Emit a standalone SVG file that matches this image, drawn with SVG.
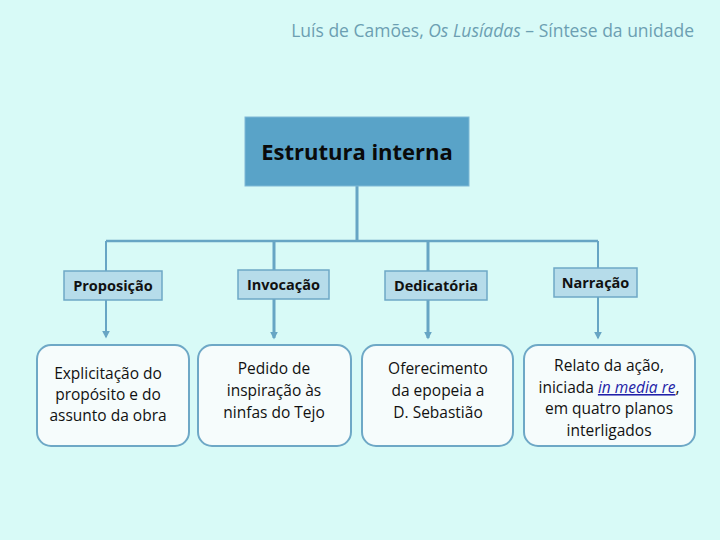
<svg xmlns="http://www.w3.org/2000/svg" width="720" height="540" viewBox="0 0 720 540">
<defs>
<style>
.t{font-family:"Open Sans","Liberation Sans",sans-serif}
.hd{font-size:17.5px;fill:#6c9fb2}
.lbl{font-size:14.5px;font-weight:bold;fill:#111;text-anchor:middle}
.desc{font-size:15.5px;fill:#111;text-anchor:middle}
.small{fill:#b6dcea;stroke:#6ea8c6;stroke-width:1.5}
.big{fill:#f6fcfc;stroke:#6ea8c6;stroke-width:2}
.ln{stroke:#67a5c4;fill:none}
</style>
<marker id="ah" viewBox="0 0 10 10" refX="8" refY="5" markerWidth="8" markerHeight="8" orient="auto" markerUnits="userSpaceOnUse">
<path d="M0,0 L10,5 L0,10 z" fill="#67a5c4"/>
</marker>
</defs>
<rect width="720" height="540" fill="#d8faf7"/>
<text class="t hd" x="694" y="37" text-anchor="end">Luís de Camões, <tspan font-style="italic">Os Lusíadas</tspan> – Síntese da unidade</text>

<g id="connectors">
<path class="ln" stroke-width="3" d="M357,186 V241"/>
<path class="ln" stroke-width="2.5" d="M106,241 H598"/>
<path class="ln" stroke-width="2" d="M106,241 V271"/>
<path class="ln" stroke-width="3" d="M274,241 V270"/>
<path class="ln" stroke-width="3" d="M428,241 V271"/>
<path class="ln" stroke-width="2" d="M598,241 V268"/>
<path class="ln" stroke-width="2" d="M106,300 V337" marker-end="url(#ah)"/>
<path class="ln" stroke-width="3" d="M274,299 V338" marker-end="url(#ah)"/>
<path class="ln" stroke-width="3" d="M428,300 V338" marker-end="url(#ah)"/>
<path class="ln" stroke-width="2" d="M598,297 V338" marker-end="url(#ah)"/>
</g>

<g id="root">
<rect x="245" y="117" width="224" height="69" fill="#59a3c8" stroke="#7fb8d6" stroke-width="1"/>
<text class="t" x="357" y="160" font-size="22" font-weight="bold" fill="#0a0a0a" text-anchor="middle">Estrutura interna</text>
</g>

<g id="proposicao">
<rect class="small" x="64" y="271" width="98" height="29"/>
<text class="t lbl" x="113" y="291">Proposição</text>
</g>
<g id="invocacao">
<rect class="small" x="238" y="270" width="91" height="29"/>
<text class="t lbl" x="283.5" y="290">Invocação</text>
</g>
<g id="dedicatoria">
<rect class="small" x="385" y="271" width="102" height="29"/>
<text class="t lbl" x="436" y="291">Dedicatória</text>
</g>
<g id="narracao">
<rect class="small" x="554" y="268" width="83" height="29"/>
<text class="t lbl" x="595.5" y="288">Narração</text>
</g>

<g id="desc-proposicao">
<rect class="big" x="37" y="345" width="152" height="101" rx="14"/>
<text class="t desc" x="108" y="379">Explicitação do</text>
<text class="t desc" x="108" y="400">propósito e do</text>
<text class="t desc" x="108" y="421">assunto da obra</text>
</g>
<g id="desc-invocacao">
<rect class="big" x="198" y="345" width="153" height="101" rx="14"/>
<text class="t desc" x="274" y="374">Pedido de</text>
<text class="t desc" x="274" y="396">inspiração às</text>
<text class="t desc" x="274" y="418">ninfas do Tejo</text>
</g>
<g id="desc-dedicatoria">
<rect class="big" x="362" y="345" width="151" height="101" rx="14"/>
<text class="t desc" x="438" y="374">Oferecimento</text>
<text class="t desc" x="438" y="396">da epopeia a</text>
<text class="t desc" x="438" y="418">D. Sebastião</text>
</g>
<g id="desc-narracao">
<rect class="big" x="524" y="345" width="171" height="101" rx="14"/>
<text class="t desc" x="609" y="371">Relato da ação,</text>
<text class="t desc" x="609" y="393">iniciada <tspan font-style="italic" fill="#1f1fa8" text-decoration="underline">in media re</tspan>,</text>
<text class="t desc" x="609" y="414">em quatro planos</text>
<text class="t desc" x="609" y="436">interligados</text>
</g>
</svg>
